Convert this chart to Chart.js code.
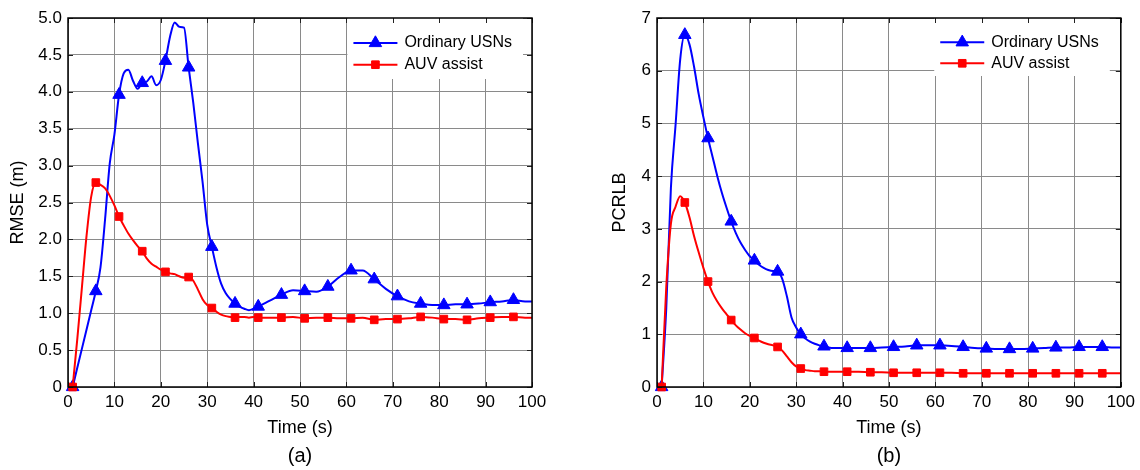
<!DOCTYPE html>
<html>
<head>
<meta charset="utf-8">
<script src="https://cdn.jsdelivr.net/npm/chart.js@4.4.1/dist/chart.umd.min.js"></script>
<style>
    html, body { margin: 0; padding: 0; background: #fff; }
    #wrap { position: relative; width: 1140px; height: 470px; }
    #rmseChart { position: absolute; left: 0; top: 0; }
    #pcrlbChart { position: absolute; left: 570px; top: 0; }
</style>
</head>
<body>
<div id="wrap">
    <canvas id="rmseChart" width="560" height="470"></canvas>
    <canvas id="pcrlbChart" width="570" height="470"></canvas>
</div>
<script>
// sample times (s) for the RMSE panel
const timeA = [1, 2, 3, 4, 5, 6, 7, 8, 9, 10, 11, 12, 13, 14, 15, 16, 17, 18, 19, 20,
    21, 22, 23, 24, 25, 26, 27, 28, 29, 30, 31, 32, 33, 34, 35, 36, 37, 38, 39, 40, 41,
    43.5, 46, 48.5, 51, 53.5, 56, 58.5, 61, 63.5, 66, 68.5, 71, 73.5, 76, 78.5, 81,
    83.5, 86, 88.5, 91, 93.5, 96, 98.5, 100];

const rmseUsn = [0, 0.26, 0.52, 0.78, 1.04, 1.30, 1.62, 2.28, 3.03, 3.42,
    3.96, 4.25, 4.30, 4.15, 4.04, 4.12, 4.14, 4.21, 4.09, 4.16,
    4.42, 4.75, 4.94, 4.88, 4.87, 4.33, 3.85, 3.30, 2.78, 2.20,
    1.90, 1.62, 1.40, 1.27, 1.19, 1.13, 1.09, 1.06, 1.04, 1.06, 1.09,
    1.17, 1.25, 1.31, 1.30, 1.29, 1.36, 1.49, 1.58, 1.58, 1.46, 1.33, 1.23,
    1.16, 1.13, 1.11, 1.11, 1.12, 1.12, 1.13, 1.15, 1.16, 1.18, 1.16, 1.16];

const rmseAuv = [0, 0.65, 1.35, 2.05, 2.58, 2.77, 2.74, 2.69, 2.59, 2.46,
    2.31, 2.19, 2.08, 1.99, 1.91, 1.84, 1.74, 1.67, 1.63, 1.59,
    1.56, 1.54, 1.53, 1.50, 1.48, 1.49, 1.44, 1.32, 1.19, 1.11,
    1.07, 1.02, 0.98, 0.96, 0.95, 0.94, 0.95, 0.95, 0.94, 0.95, 0.94,
    0.94, 0.94, 0.95, 0.93, 0.94, 0.94, 0.93, 0.93, 0.94, 0.91, 0.92, 0.92,
    0.93, 0.95, 0.94, 0.92, 0.92, 0.91, 0.93, 0.94, 0.95, 0.95, 0.94, 0.94];

// sample times (s) for the PCRLB panel
const timeB = [1, 2, 3, 4, 5, 6, 7, 8, 9, 10, 11, 12, 13, 14, 15, 16, 17, 18, 19, 20,
    21, 22, 23, 24, 25, 26, 27, 28, 29, 30, 31, 32, 33, 34, 35, 36, 37, 38, 39, 40, 41,
    43.5, 46, 48.5, 51, 53.5, 56, 58.5, 61, 63.5, 66, 68.5, 71, 73.5, 76, 78.5, 81,
    83.5, 86, 88.5, 91, 93.5, 96, 98.5, 100];

const pcrlbUsn = [0, 1.50, 3.78, 4.97, 6.21, 6.68, 6.50, 6.07, 5.55, 5.12,
    4.72, 4.36, 4.00, 3.68, 3.40, 3.14, 2.92, 2.74, 2.60, 2.48,
    2.40, 2.32, 2.26, 2.22, 2.20, 2.19, 2.05, 1.72, 1.32, 1.13,
    1.00, 0.92, 0.86, 0.82, 0.79, 0.77, 0.75, 0.74, 0.74, 0.74, 0.74,
    0.74, 0.74, 0.75, 0.76, 0.77, 0.79, 0.79, 0.79, 0.78, 0.76, 0.74, 0.73,
    0.72, 0.72, 0.72, 0.73, 0.74, 0.75, 0.75, 0.76, 0.76, 0.76, 0.75, 0.75];

const pcrlbAuv = [0, 1.90, 3.10, 3.42, 3.62, 3.50, 3.22, 2.86, 2.55, 2.26,
    2.00, 1.78, 1.62, 1.49, 1.38, 1.27, 1.17, 1.09, 1.02, 0.97,
    0.93, 0.88, 0.84, 0.81, 0.79, 0.76, 0.69, 0.58, 0.47, 0.39,
    0.35, 0.32, 0.31, 0.30, 0.30, 0.29, 0.29, 0.29, 0.29, 0.29, 0.29,
    0.29, 0.28, 0.28, 0.27, 0.27, 0.27, 0.27, 0.27, 0.27, 0.26, 0.26, 0.26,
    0.26, 0.26, 0.26, 0.26, 0.26, 0.26, 0.26, 0.26, 0.26, 0.26, 0.26, 0.26];

// markers are only shown at these times
const markerTimes = [1, 6, 11, 16, 21, 26, 31, 36, 41, 46, 51, 56, 61, 66, 71, 76, 81, 86, 91, 96];

const rmseTickLabels = ["0", "0.5", "1.0", "1.5", "2.0", "2.5", "3.0", "3.5", "4.0", "4.5", "5.0"];
const pcrlbTickLabels = ["0", "1", "2", "3", "4", "5", "6", "7"];
const xTickLabels = ["0", "10", "20", "30", "40", "50", "60", "70", "80", "90", "100"];

const FONT = '"Liberation Sans", Arial, sans-serif';
Chart.defaults.font.family = FONT;
Chart.defaults.color = "#000";

// legend drawn inside the plot, top right, on a white patch
const boxLegend = {
    id: "boxLegend",
    afterDatasetsDraw(chart, args, opts) {
        const ctx = chart.ctx;
        const area = chart.chartArea;
        const sets = chart.data.datasets;
        ctx.save();
        ctx.font = "16px " + FONT;
        const textW = Math.max(...sets.map(d => ctx.measureText(d.label).width));
        const w = 6 + 44 + 7 + textW + 11;
        const left = area.right - opts.inset - w;
        ctx.fillStyle = "#fff";
        ctx.fillRect(left, area.top, w, opts.height);
        sets.forEach((d, i) => {
            const cy = area.top + opts.firstRow + i * opts.rowGap;
            ctx.strokeStyle = d.borderColor;
            ctx.lineWidth = d.borderWidth;
            ctx.beginPath();
            ctx.moveTo(left + 6, cy);
            ctx.lineTo(left + 50, cy);
            ctx.stroke();
            ctx.fillStyle = d.borderColor;
            ctx.lineWidth = 1;
            Chart.helpers.drawPoint(ctx, {
                pointStyle: d.pointStyle, radius: d.markerSize, rotation: 0, borderWidth: 1
            }, left + 28, cy);
            ctx.fillStyle = "#000";
            ctx.textBaseline = "middle";
            ctx.textAlign = "left";
            ctx.fillText(d.label, left + 57, cy);
        });
        ctx.restore();
    }
};

// box around the plot with short inward ticks on all four sides
const frameTicks = {
    id: "frameTicks",
    afterDraw(chart) {
        const ctx = chart.ctx;
        const a = chart.chartArea;
        const x = chart.scales.x;
        const y = chart.scales.y;
        ctx.save();
        ctx.strokeStyle = "#222";
        ctx.lineWidth = 1;
        ctx.beginPath();
        x.ticks.forEach(t => {
            const px = Math.round(x.getPixelForValue(t.value)) + 0.5;
            ctx.moveTo(px, a.top);
            ctx.lineTo(px, a.top + 5);
            ctx.moveTo(px, a.bottom);
            ctx.lineTo(px, a.bottom - 5);
        });
        y.ticks.forEach(t => {
            const py = Math.round(y.getPixelForValue(t.value)) + 0.5;
            ctx.moveTo(a.left, py);
            ctx.lineTo(a.left + 5, py);
            ctx.moveTo(a.right, py);
            ctx.lineTo(a.right - 5, py);
        });
        ctx.stroke();
        ctx.strokeStyle = "#000";
        ctx.lineWidth = 1.5;
        ctx.strokeRect(a.left, a.top, a.width, a.height);
        ctx.restore();
    }
};

function toPoints(times, values) {
    return times.map((t, i) => ({ x: t, y: values[i] }));
}

function markerRadius(size) {
    return ctx => (ctx.raw && markerTimes.includes(ctx.raw.x)) ? size : 0;
}

function makeChart(canvasId, cfg) {
    const ctx = document.getElementById(canvasId).getContext("2d");
    return new Chart(ctx, {
        type: "line",
        data: {
            datasets: [{
                label: "Ordinary USNs",
                data: toPoints(cfg.times, cfg.usn),
                borderColor: "#0000ff",
                backgroundColor: "#0000ff",
                borderWidth: 2,
                pointStyle: "triangle",
                markerSize: 7.2,
                pointRadius: markerRadius(7.2),
                pointBorderWidth: 1,
                cubicInterpolationMode: "monotone",
                clip: false,
                order: 1
            }, {
                label: "AUV assist",
                data: toPoints(cfg.times, cfg.auv),
                borderColor: "#ff0000",
                backgroundColor: "#ff0000",
                borderWidth: 2,
                pointStyle: "rect",
                markerSize: 5.4,
                pointRadius: markerRadius(5.4),
                pointBorderWidth: 1,
                cubicInterpolationMode: "monotone",
                clip: false,
                order: 0
            }]
        },
        options: {
            responsive: false,
            animation: false,
            layout: { padding: { top: 18, right: cfg.padRight, bottom: 0, left: 0 } },
            plugins: {
                legend: { display: false },
                tooltip: { enabled: false },
                title: {
                    display: true,
                    text: cfg.panel,
                    position: "bottom",
                    fullSize: false,
                    font: { size: 20, weight: "normal" },
                    padding: { top: 0, bottom: 2 }
                },
                boxLegend: cfg.legend
            },
            scales: {
                x: {
                    type: "linear",
                    min: 0,
                    max: 100,
                    afterFit: scale => { scale.height = 57; },
                    ticks: {
                        stepSize: 10,
                        padding: 5,
                        font: { size: 17 },
                        callback: (value, index) => xTickLabels[index]
                    },
                    grid: { color: "#8a8a8a", lineWidth: 1, drawTicks: false },
                    border: { display: false },
                    title: {
                        display: true,
                        text: "Time (s)",
                        font: { size: 18 },
                        padding: { top: 0, bottom: 5 }
                    }
                },
                y: {
                    min: 0,
                    max: cfg.yMax,
                    afterFit: scale => { scale.width = cfg.yWidth; },
                    ticks: {
                        stepSize: cfg.yStep,
                        padding: 6,
                        font: { size: 17 },
                        callback: (value, index) => cfg.yLabels[index]
                    },
                    grid: { color: "#8a8a8a", lineWidth: 1, drawTicks: false },
                    border: { display: false },
                    title: {
                        display: true,
                        text: cfg.yTitle,
                        font: { size: 18 },
                        padding: { top: cfg.yTitlePad, bottom: 0 }
                    }
                }
            }
        },
        plugins: [boxLegend, frameTicks]
    });
}

makeChart("rmseChart", {
    times: timeA, usn: rmseUsn, auv: rmseAuv,
    panel: "(a)", yTitle: "RMSE (m)", yMax: 5, yStep: 0.5, yLabels: rmseTickLabels,
    yWidth: 68, yTitlePad: 7, padRight: 28,
    legend: { inset: 9, height: 61, firstRow: 25, rowGap: 21.7 }
});

makeChart("pcrlbChart", {
    times: timeB, usn: pcrlbUsn, auv: pcrlbAuv,
    panel: "(b)", yTitle: "PCRLB", yMax: 7, yStep: 1, yLabels: pcrlbTickLabels,
    yWidth: 87, yTitlePad: 39, padRight: 19,
    legend: { inset: 11, height: 58, firstRow: 24.3, rowGap: 21 }
});
</script>
</body>
</html>
